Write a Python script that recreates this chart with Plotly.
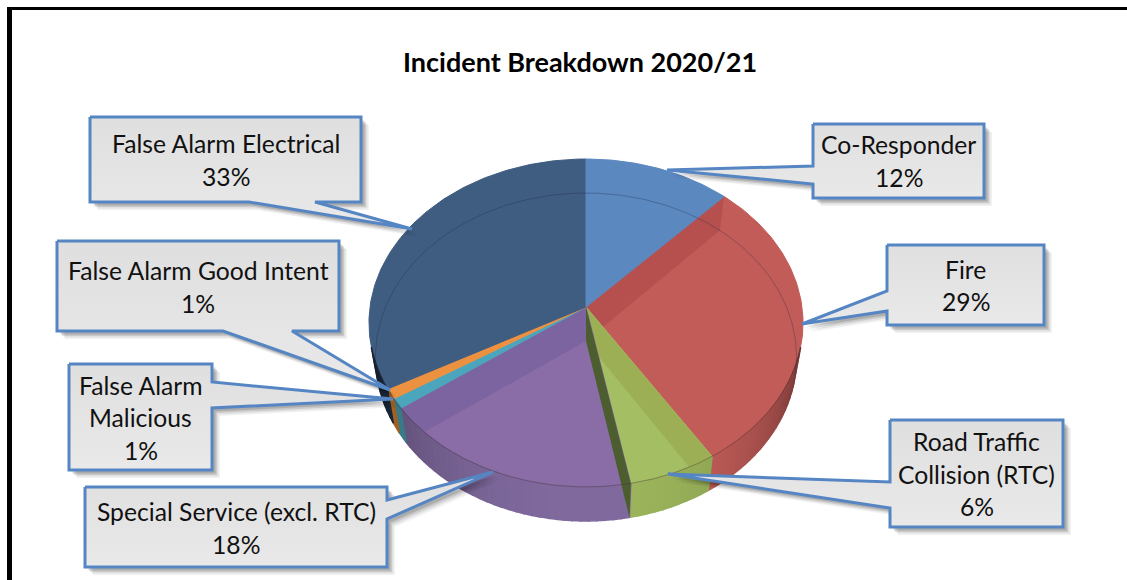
import math
import plotly.graph_objects as go

# ---------- data ----------
categories = ["Co-Responder", "Fire", "Road Traffic Collision (RTC)", "Special Service (excl. RTC)",
              "False Alarm Malicious", "False Alarm Good Intent", "False Alarm Electrical"]
values = [12, 29, 6, 18, 1, 1, 33]
title_text = "Incident Breakdown 2020/21"
label_lines = [["Co-Responder"], ["Fire"], ["Road Traffic", "Collision (RTC)"], ["Special Service (excl. RTC)"],
               ["False Alarm", "Malicious"], ["False Alarm Good Intent"], ["False Alarm Electrical"]]
face_colors = ["#5B88BF", "#C25C58", "#A4BE63", "#8A6DA6", "#4BA6BD", "#EC9140", "#3F5C81"]
band_colors = [None, "#B5504F", "#9CAF55", "#7C64A0", None, None, None]
wall_colors = ["#5B88BF", "#C8605C", "#9DB65C", "#806A9E", "#4A9DB0", "#D58233", "#24364E"]

# ---------- view geometry ----------
CX, HUB_Y, A, B, K = 586, 307, 216, 162.4, 0.0975
DROP, SHRINK = 34, 0.97


def proj(theta, low=False):
    r = math.radians(theta)
    X, Y = math.sin(r), math.cos(r)
    w = 1 + K * Y
    a = A * SHRINK if low else A
    return CX + a * X / w, HUB_Y + (DROP if low else 0) - B * Y / w


def hub(low=False):
    return CX, HUB_Y + (DROP if low else 0)


def poly(pts, fill, line=None, width=1, name=None, gradient=None):
    xs = [p[0] for p in pts] + [pts[0][0]]
    ys = [p[1] for p in pts] + [pts[0][1]]
    t = go.Scatter(x=xs, y=ys, mode="lines", fill="toself", fillcolor=fill,
                   line=dict(color=line or "rgba(0,0,0,0)", width=width),
                   hoverinfo="text" if name else "skip", text=name, showlegend=False)
    if gradient:
        t.fillgradient = dict(type="vertical", colorscale=[[0, gradient[0]], [1, gradient[1]]])
    return t


def arc(t0, t1, low=False, step=1.0):
    n = max(2, int(abs(t1 - t0) / step) + 1)
    return [proj(t0 + (t1 - t0) * i / (n - 1), low) for i in range(n)]


def shade(hex_c, f):
    r, g, b = (int(hex_c[i:i + 2], 16) for i in (1, 3, 5))
    return f"rgb({int(r * f)},{int(g * f)},{int(b * f)})"


total = sum(values)
edges = [0]
for v in values:
    edges.append(edges[-1] + v / total * 360)

fig = go.Figure()

# faces and inner radial walls seen through the translucent disc
paint_order = [1, 2, 3, 4, 5, 6, 0]
for i in paint_order:
    t0, t1 = edges[i], edges[i + 1]
    fig.add_trace(poly([hub()] + arc(t0, t1), face_colors[i], line=face_colors[i], name=f"{categories[i]}: {values[i]}%"))
    if band_colors[i]:
        t = t1 if i == 3 else t0
        fig.add_trace(poly([hub(), proj(t), proj(t, True), hub(True)], band_colors[i]))

# side walls
W0, W1 = 104, 256
for i in range(len(values)):
    t0, t1 = max(edges[i], W0), min(edges[i + 1], W1)
    if t1 <= t0:
        continue
    n = max(1, int((t1 - t0) / 2))
    for s in range(n):
        a0 = t0 + (t1 - t0) * s / n
        a1 = t0 + (t1 - t0) * (s + 1) / n
        f = 1 - 0.42 * min(1, abs((a0 + a1) / 2 - 180) / 76) ** 2
        c = shade(wall_colors[i], f)
        fig.add_trace(poly(arc(a0, a1) + arc(a1, a0, True), c, line=c, width=1.5))

# dark end wall of the RTC slice
t_end = edges[3]
fig.add_trace(poly([hub(), proj(t_end), proj(t_end, True), hub(True)], "#4C5D30"))

# rim lines
for pts, col in [(arc(W0, W1), "rgba(70,40,50,0.35)"), (arc(-100, 102, True), "rgba(30,40,70,0.32)")]:
    fig.add_trace(go.Scatter(x=[p[0] for p in pts], y=[p[1] for p in pts], mode="lines",
                             line=dict(color=col, width=1), hoverinfo="skip", showlegend=False))

# ---------- callouts (box left, top, right, bottom, then tail points) ----------
BORDER = "#5585C2"
callouts = [
    ((813, 124, 984, 198), [(813, 166), (667, 170), (813, 184)]),
    ((887, 245, 1044, 325), [(887, 291), (802, 324), (887, 311)]),
    ((890, 420, 1063, 527), [(890, 482), (668, 474), (890, 508)]),
    ((85, 487, 387, 567), [(387, 519), (493, 472), (387, 500)]),
    ((69, 364, 212, 470), [(212, 408), (393, 399), (212, 382)]),
    ((57, 241, 339, 331), [(223, 331), (390, 390), (292, 331)]),
    ((90, 117, 361, 202), [(249, 202), (412, 229), (315, 202)]),
]
line_centres = [[144, 177], [269, 301], [441, 474, 506], [511, 544], [385, 417, 450], [270, 303], [143, 176]]


def outline(box, tail):
    l, t, r, b = box
    a, tip, c = tail
    if a[0] == l and c[0] == l:
        return [(l, t), (r, t), (r, b), (l, b), c, tip, a]
    if a[0] == r and c[0] == r:
        return [(l, t), (r, t), c, tip, a, (r, b), (l, b)]
    return [(l, t), (r, t), (r, b), c, tip, a, (l, b)]


annotations = []
for i, (box, tail) in enumerate(callouts):
    pts = outline(box, tail)
    for off, op in [(8, 0.05), (6.5, 0.07), (5, 0.1), (3.5, 0.14)]:
        fig.add_trace(poly([(x + off, y + off) for x, y in pts], f"rgba(0,0,0,{op})"))
    fig.add_trace(poly(pts, "#E3E3E3", line=BORDER, width=3,
                       name=f"{categories[i]}: {values[i]}%", gradient=("#E9E9E9", "#DFDFDF")))
    cx = (box[0] + box[2]) / 2
    texts = label_lines[i] + [f"{values[i]}%"]
    for txt, yc in zip(texts, line_centres[i]):
        annotations.append(dict(x=cx, y=yc, xref="x", yref="y", text=txt, showarrow=False,
                                xanchor="center", yanchor="middle",
                                font=dict(family="Lato", size=24.7, color="#111111")))

annotations.append(dict(x=579.5, y=61, xref="x", yref="y", text=f"<b>{title_text}</b>", showarrow=False,
                        xanchor="center", yanchor="middle", font=dict(family="Lato", size=27, color="#000000")))

shapes = [
    dict(type="line", xref="x", yref="y", x0=7, x1=1127, y0=8.5, y1=8.5, line=dict(color="#000000", width=3)),
    dict(type="line", xref="x", yref="y", x0=9.5, x1=9.5, y0=7, y1=580, line=dict(color="#000000", width=5)),
]

fig.update_layout(
    width=1127, height=580, margin=dict(l=0, r=0, t=0, b=0),
    paper_bgcolor="#FFFFFF", plot_bgcolor="#FFFFFF", showlegend=False,
    xaxis=dict(range=[0, 1127], visible=False, fixedrange=True),
    yaxis=dict(range=[580, 0], visible=False, fixedrange=True),
    annotations=annotations, shapes=shapes,
)
fig.write_html("out.html", config={"displayModeBar": False},
               post_script="document.body.style.margin='0';document.body.style.overflow='hidden';")
